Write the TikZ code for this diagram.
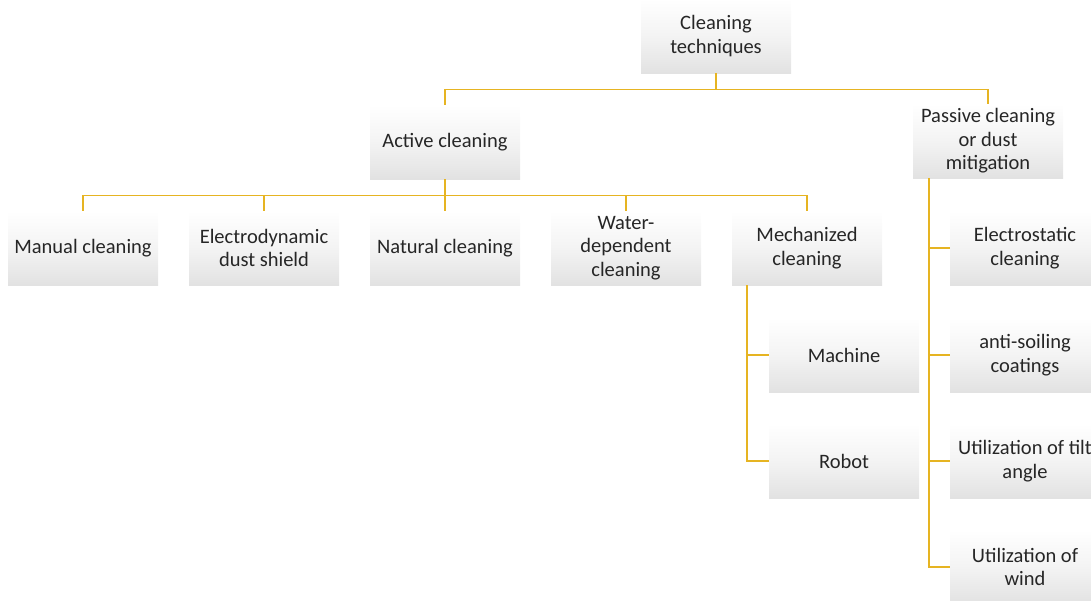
\documentclass[tikz,border=0pt]{standalone}
\usepackage{fontspec}
\setmainfont{Carlito}
\definecolor{linecol}{HTML}{E6B422}
\definecolor{txtcol}{HTML}{262626}
\definecolor{boxbot}{HTML}{E2E2E2}
\begin{document}
\begin{tikzpicture}[x=1pt,y=-1pt,
  box/.style={shape=rectangle, minimum width=150pt, minimum height=74pt, inner sep=0pt,
    top color=white, bottom color=boxbot, middle color=white!60!boxbot, shading angle=0,
    text=txtcol, align=center, font=\fontsize{20.5}{23.5}\selectfont},
  conn/.style={draw=linecol, line width=1.4pt}]
\useasboundingbox (0,0) rectangle (1091,600);
\node[box] (root) at (716,36) {Cleaning\\techniques};
\node[box] (act) at (445,142) {Active cleaning};
\node[box] (pas) at (988,141) {Passive cleaning\\or dust\\mitigation};
\node[box] (man) at (83,248) {Manual cleaning};
\node[box] (eds) at (264,248) {Electrodynamic\\dust shield};
\node[box] (nat) at (445,248) {Natural cleaning};
\node[box] (wat) at (626,248) {Water-\\dependent\\cleaning};
\node[box] (mec) at (807,248) {Mechanized\\cleaning};
\node[box] (mach) at (844,355) {Machine};
\node[box] (rob) at (844,461) {Robot};
\node[box] (est) at (1025,248) {Electrostatic\\cleaning};
\node[box] (anti) at (1025,355) {anti-soiling\\coatings};
\node[box] (tilt) at (1025,461) {Utilization of tilt\\angle};
\node[box] (wind) at (1025,567) {Utilization of\\wind};
% connectors
\draw[conn] (root.south) -- ++(0,16) -| (act.north);
\draw[conn] (root.south) -- ++(0,16) -| (pas.north);
\foreach \c in {man,eds,nat,wat,mec}
  \draw[conn] (act.south) -- ++(0,16) -| (\c.north);
\foreach \c in {mach,rob}
  \draw[conn] ([xshift=15pt]mec.south west) |- (\c.west);
\foreach \c in {est,anti,tilt,wind}
  \draw[conn] ([xshift=16pt]pas.south west) |- (\c.west);
\end{tikzpicture}
\end{document}
